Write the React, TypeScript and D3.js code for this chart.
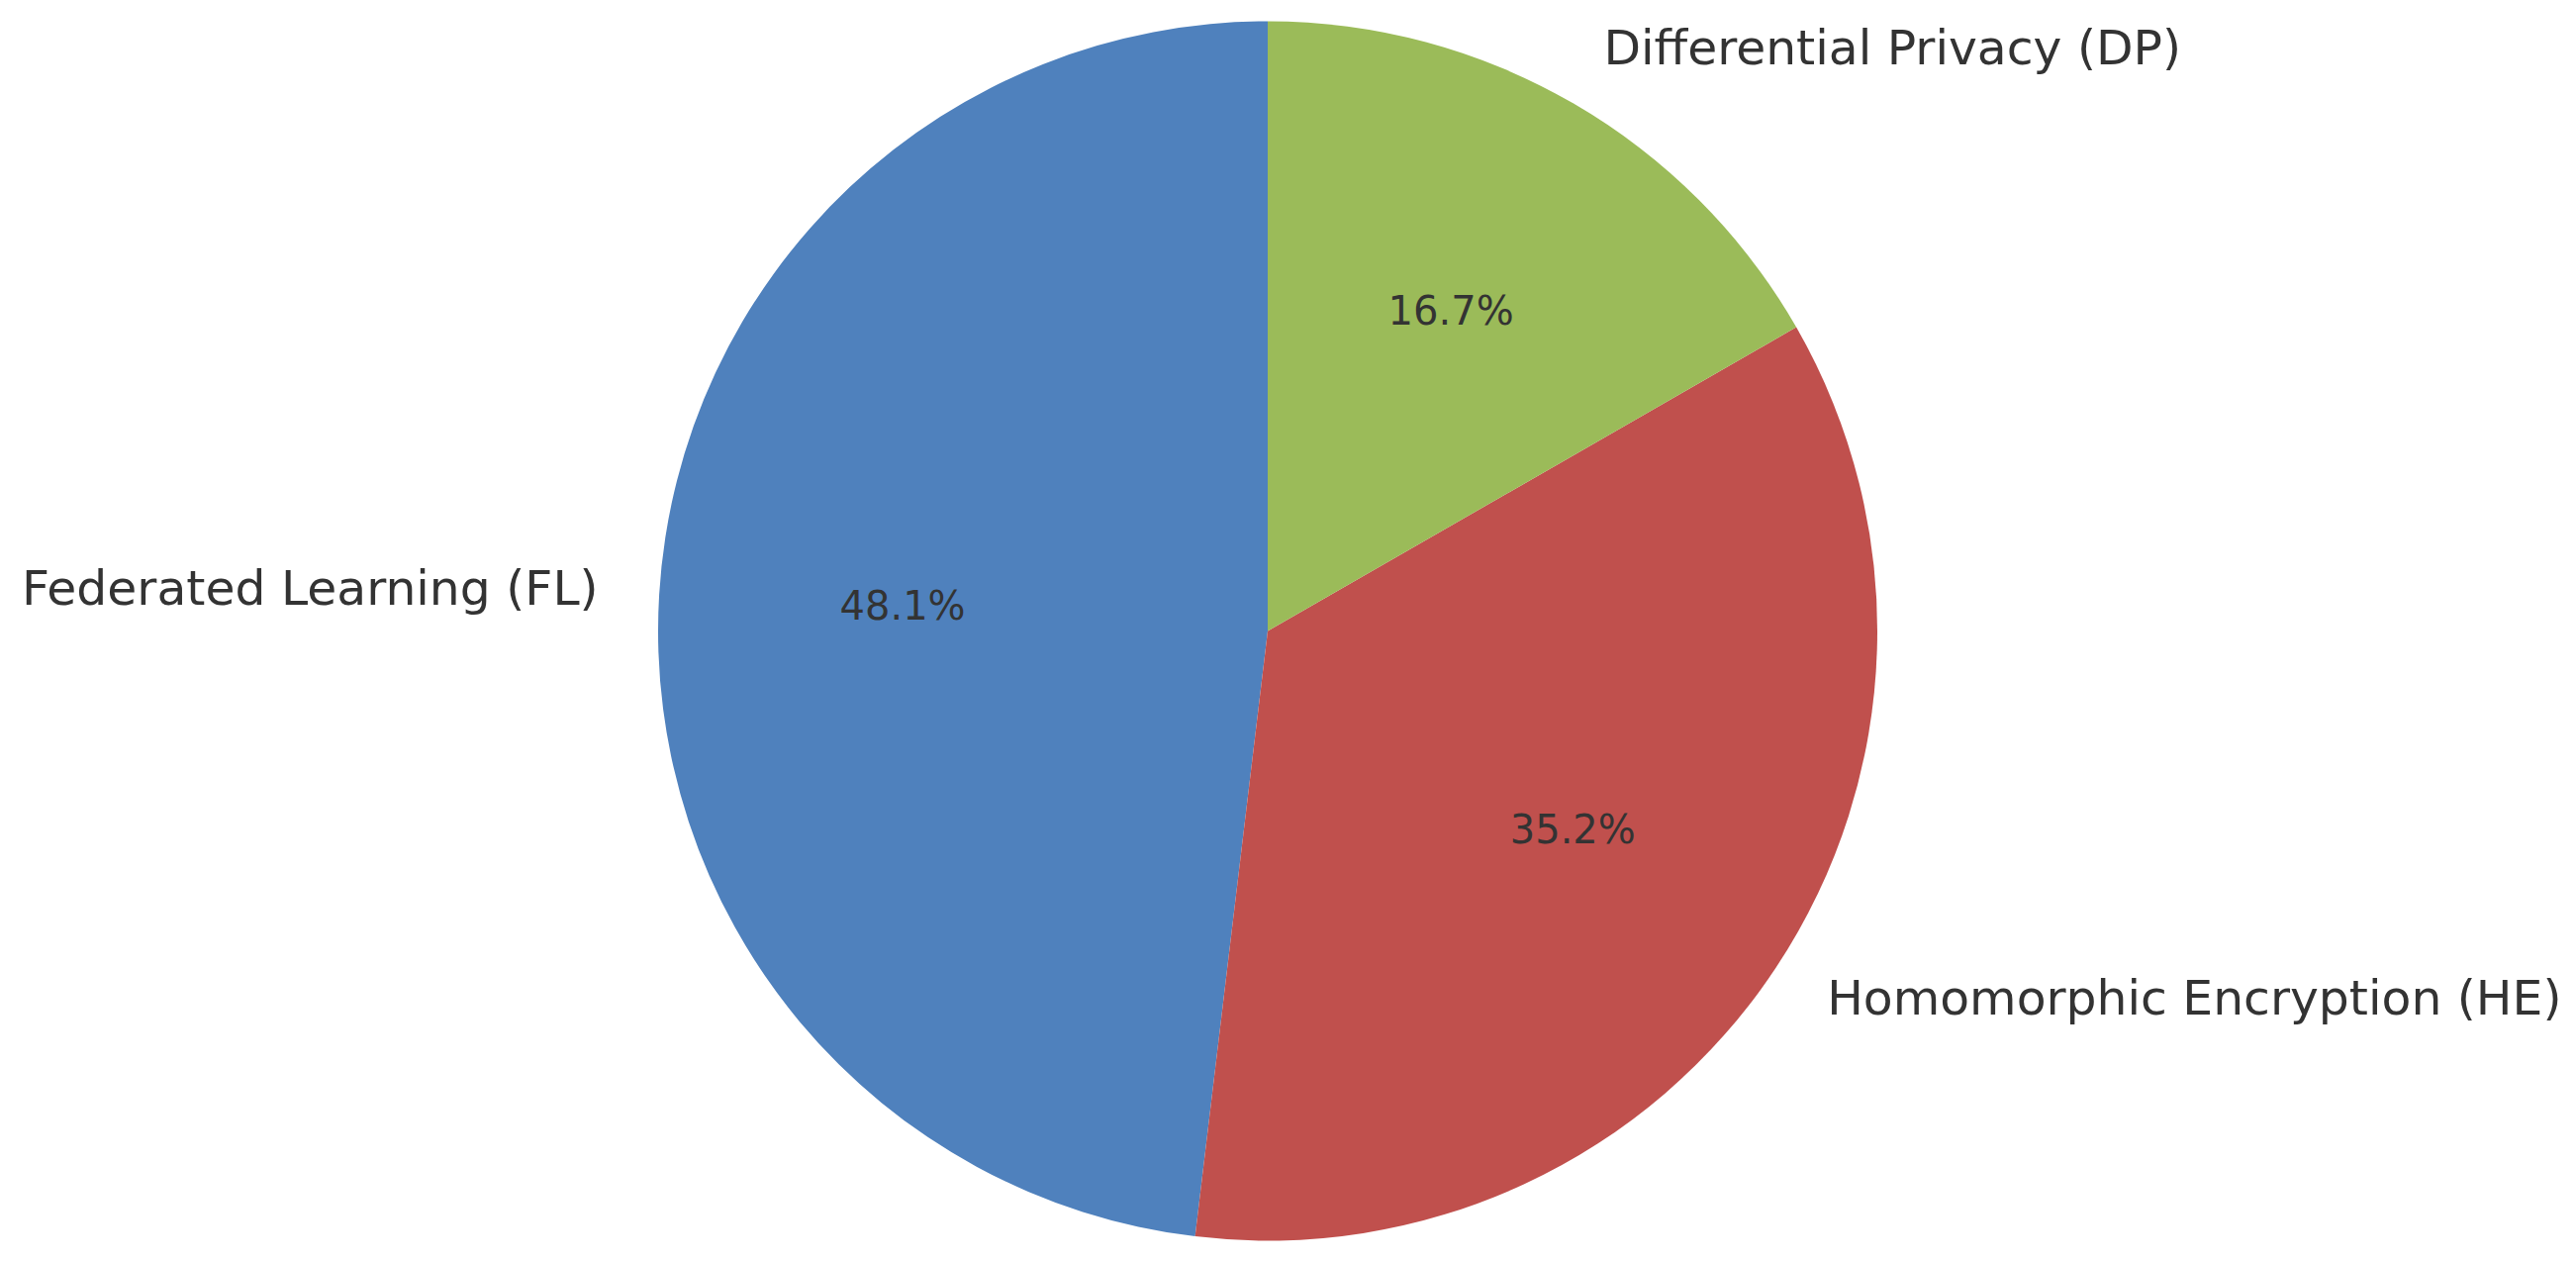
import React from "react";
import * as d3 from "d3";

const categories = ["Federated Learning (FL)", "Homomorphic Encryption (HE)", "Differential Privacy (DP)"];
const values = [48.1, 35.2, 16.7];
const colors = ["#4f81bd", "#c0504d", "#9bbb59"];

const W = 2603;
const H = 1274;
const CX = 1281;
const CY = 637.5;
const R = 616;

export default function App() {
  const pie = d3
    .pie<number>()
    .sort(null)
    .startAngle(0)
    .endAngle(-2 * Math.PI)(values);
  const arc = d3.arc<d3.PieArcDatum<number>>().innerRadius(0).outerRadius(R);
  const total = d3.sum(values);

  return (
    <svg
      width={W}
      height={H}
      style={{ position: "absolute", left: 0, top: 0, background: "#fff" }}
      fontFamily="DejaVu Sans, sans-serif"
    >
      <g transform={`translate(${CX},${CY})`}>
        {pie.map((d, i) => (
          <path key={"s" + i} d={arc(d) || ""} fill={colors[i]} />
        ))}
        {pie.map((d, i) => {
          const mid = (d.startAngle + d.endAngle) / 2;
          const sx = Math.sin(mid);
          const sy = -Math.cos(mid);
          const lx = 1.1 * R * sx;
          const ly = 1.1 * R * sy;
          const px = 0.6 * R * sx;
          const py = 0.6 * R * sy;
          return (
            <g key={"t" + i}>
              <text
                x={lx}
                y={ly}
                dy="0.28em"
                fontSize={48.8}
                fill="#333333"
                textAnchor={sx > 0 ? "start" : "end"}
              >
                {categories[i]}
              </text>
              <text
                x={px}
                y={py}
                dy="0.262em"
                fontSize={40}
                fill="#333333"
                textAnchor="middle"
              >
                {((d.data / total) * 100).toFixed(1) + "%"}
              </text>
            </g>
          );
        })}
      </g>
    </svg>
  );
}
